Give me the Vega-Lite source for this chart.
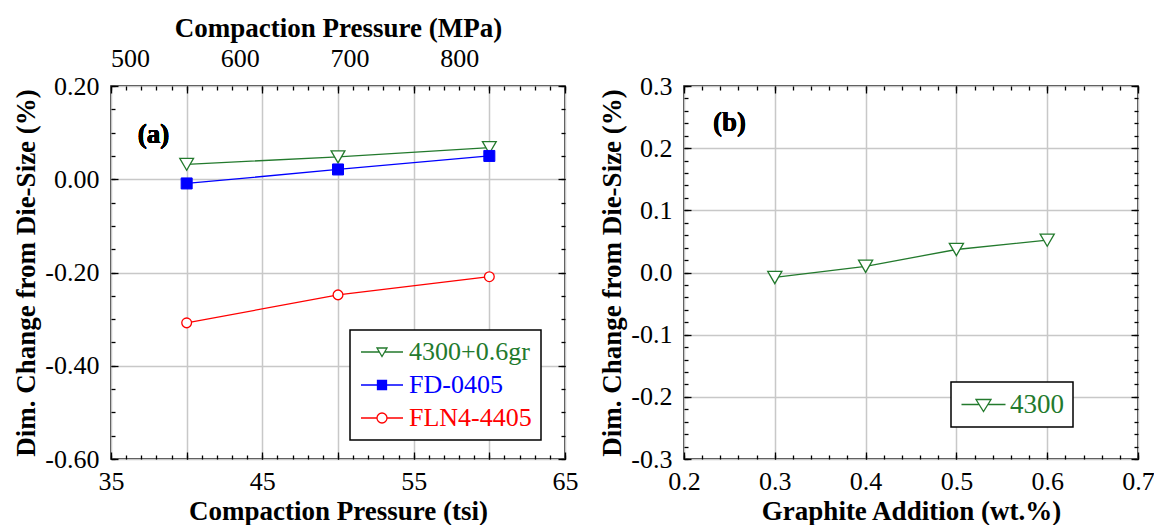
{
  "$schema": "https://vega.github.io/schema/vega-lite/v6.json",
  "background": "white",
  "padding": {"left": 12, "top": 13, "right": 5, "bottom": 0},
  "spacing": 19,
  "resolve": {"scale": {"stroke": "independent"}, "legend": {"stroke": "independent"}},
  "config": {
    "font": "Liberation Serif",
    "view": {"stroke": "black", "strokeWidth": 1.5},
    "legend": {"labelFont": "Liberation Serif"},
    "axis": {
      "labelFont": "Liberation Serif", "labelFontSize": 26, "labelColor": "black",
      "titleFont": "Liberation Serif", "titleFontSize": 27, "titleFontWeight": "bold", "titleColor": "black",
      "gridColor": "#c8c8c8", "gridWidth": 1.5, "gridOpacity": 1,
      "tickColor": "black", "tickWidth": 1.3, "domain": false,
      "labelFlush": false, "labelOverlap": false, "labelAngle": 0
    }
  },
  "hconcat": [
    {
      "width": 454, "height": 373,
      "data": {"values": [
        {"p": 40, "d": 0.032, "s": "4300+0.6gr"},
        {"p": 50, "d": 0.048, "s": "4300+0.6gr"},
        {"p": 60, "d": 0.068, "s": "4300+0.6gr"},
        {"p": 40, "d": -0.009, "s": "FD-0405"},
        {"p": 50, "d": 0.021, "s": "FD-0405"},
        {"p": 60, "d": 0.05, "s": "FD-0405"},
        {"p": 40, "d": -0.308, "s": "FLN4-4405"},
        {"p": 50, "d": -0.248, "s": "FLN4-4405"},
        {"p": 60, "d": -0.209, "s": "FLN4-4405"}
      ]},
      "resolve": {"axis": {"x": "independent", "y": "independent"}},
      "layer": [
        {
          "mark": {"type": "line", "strokeWidth": 1.3},
          "encoding": {
            "x": {"field": "p", "type": "quantitative", "scale": {"domain": [35, 65], "nice": false, "zero": false},
              "axis": {"orient": "bottom", "values": [35, 40, 45, 50, 55, 60, 65], "labelExpr": "datum.value % 10 == 5 ? datum.label : ''", "ticks": false, "grid": true, "title": "Compaction Pressure (tsi)", "labelPadding": 9, "titlePadding": 4}},
            "y": {"field": "d", "type": "quantitative", "scale": {"domain": [-0.6, 0.2], "nice": false, "zero": false},
              "axis": {"orient": "left", "values": [-0.6, -0.4, -0.2, 0, 0.2], "labelExpr": "replace(format(datum.value, '.2f'), '−', '-')", "ticks": false, "grid": true, "title": "Dim. Change from Die-Size (%)", "labelPadding": 12, "titlePadding": 4}},
            "stroke": {"field": "s", "type": "nominal",
              "scale": {"domain": ["4300+0.6gr", "FD-0405", "FLN4-4405"], "range": ["#237a2d", "#0000ff", "#ff0000"]},
              "legend": {
                "orient": "none", "legendX": 239, "legendY": 244, "title": null,
                "symbolSize": 100, "symbolOffset": 10, "labelOffset": 14,
                "labelFont": "Liberation Serif", "labelFontSize": 26, "rowPadding": 7, "padding": 9,
                "strokeColor": "black", "fillColor": "white", "symbolStrokeWidth": 1.3,
                "encode": {
                  "symbols": {"update": {
                    "shape": {"signal": "datum.value === '4300+0.6gr' ? 'M-4.2,0H-0.53M0.53,0H4.2M-1,-0.8H1L0,0.9Z' : datum.value === 'FD-0405' ? 'M-4.2,0H4.2M-0.9,-0.9H0.9V0.9H-0.9Z' : 'M-4.2,0H-1M1,0H4.2M-1,0A1,1 0 1,0 1,0A1,1 0 1,0 -1,0Z'"},
                    "fill": {"signal": "datum.value === 'FD-0405' ? '#0000ff' : 'white'"},
                    "stroke": {"signal": "datum.value === '4300+0.6gr' ? '#237a2d' : datum.value === 'FD-0405' ? '#0000ff' : '#ff0000'"},
                    "strokeWidth": {"value": 1.3},
                    "opacity": {"value": 1}
                  }},
                  "labels": {"update": {
                    "fill": {"signal": "datum.value === '4300+0.6gr' ? '#237a2d' : datum.value === 'FD-0405' ? '#0000ff' : '#ff0000'"}
                  }},
                  "legend": {"update": {"strokeWidth": {"value": 1.5}}}
                }
              }}
          }
        },
        {
          "transform": [{"filter": "datum.s === '4300+0.6gr'"}],
          "mark": {"type": "point", "shape": "triangle-down", "size": 190, "filled": true, "fill": "white", "stroke": "#237a2d", "strokeWidth": 1.3, "opacity": 1},
          "encoding": {
            "x": {"field": "p", "type": "quantitative", "axis": {"orient": "bottom", "values": [35, 40, 45, 50, 55, 60, 65], "labels": false, "grid": false, "title": null, "tickSize": 7, "offset": -7}},
            "y": {"field": "d", "type": "quantitative", "axis": {"orient": "left", "values": [-0.6, -0.4, -0.2, 0, 0.2], "labels": false, "grid": false, "title": null, "tickSize": 7, "offset": -7}}
          }
        },
        {
          "transform": [{"filter": "datum.s === 'FD-0405'"}],
          "mark": {"type": "point", "shape": "square", "size": 121, "filled": true, "fill": "#0000ff", "stroke": "#0000ff", "strokeWidth": 1, "opacity": 1},
          "encoding": {
            "x": {"field": "p", "type": "quantitative", "axis": {"orient": "bottom", "values": [35,36,37,38,39,40,41,42,43,44,45,46,47,48,49,50,51,52,53,54,55,56,57,58,59,60,61,62,63,64,65], "labels": false, "grid": false, "title": null, "tickSize": 4, "offset": -4}},
            "y": {"field": "d", "type": "quantitative", "axis": {"orient": "left", "values": [-0.6,-0.55,-0.5,-0.45,-0.4,-0.35,-0.3,-0.25,-0.2,-0.15,-0.1,-0.05,0,0.05,0.1,0.15,0.2], "labels": false, "grid": false, "title": null, "tickSize": 4, "offset": -4}}
          }
        },
        {
          "transform": [{"filter": "datum.s === 'FLN4-4405'"}],
          "mark": {"type": "point", "shape": "circle", "size": 95, "filled": true, "fill": "white", "stroke": "#ff0000", "strokeWidth": 1.3, "opacity": 1},
          "encoding": {
            "x": {"field": "p", "type": "quantitative", "axis": {"orient": "top", "values": [35, 40, 45, 50, 55, 60, 65], "labels": false, "grid": false, "title": null, "tickSize": 7, "offset": -7}},
            "y": {"field": "d", "type": "quantitative", "axis": {"orient": "right", "values": [-0.6, -0.4, -0.2, 0, 0.2], "labels": false, "grid": false, "title": null, "tickSize": 7, "offset": -7}}
          }
        },
        {
          "mark": {"type": "point", "opacity": 0},
          "encoding": {
            "x": {"field": "p", "type": "quantitative", "axis": {"orient": "top", "values": [35,36,37,38,39,40,41,42,43,44,45,46,47,48,49,50,51,52,53,54,55,56,57,58,59,60,61,62,63,64,65], "labels": false, "grid": false, "title": null, "tickSize": 4, "offset": -4}},
            "y": {"field": "d", "type": "quantitative", "axis": {"orient": "right", "values": [-0.6,-0.55,-0.5,-0.45,-0.4,-0.35,-0.3,-0.25,-0.2,-0.15,-0.1,-0.05,0,0.05,0.1,0.15,0.2], "labels": false, "grid": false, "title": null, "tickSize": 4, "offset": -4}}
          }
        },
        {
          "mark": {"type": "point", "opacity": 0},
          "encoding": {
            "x": {"field": "p", "type": "quantitative", "axis": {"orient": "top", "values": [36.26, 43.51, 50.76, 58.02], "labelExpr": "format(round(datum.value*13.7895/100)*100, 'd')", "ticks": false, "grid": false, "title": "Compaction Pressure (MPa)", "labelPadding": 15, "titlePadding": 3}},
            "y": {"field": "d", "type": "quantitative", "axis": null}
          }
        },
        {
          "mark": {"type": "text", "text": "(a)", "font": "Liberation Serif", "fontSize": 27, "fontWeight": "bold", "align": "center", "baseline": "middle", "fill": "black"},
          "encoding": {
            "x": {"datum": 37.8, "type": "quantitative", "axis": null},
            "y": {"datum": 0.095, "type": "quantitative", "axis": null}
          }
        }
      ]
    },
    {
      "width": 454, "height": 373,
      "data": {"values": [
        {"g": 0.3, "d": -0.008, "s": "4300"},
        {"g": 0.4, "d": 0.01, "s": "4300"},
        {"g": 0.5, "d": 0.037, "s": "4300"},
        {"g": 0.6, "d": 0.052, "s": "4300"}
      ]},
      "resolve": {"axis": {"x": "independent", "y": "independent"}},
      "layer": [
        {
          "mark": {"type": "line", "strokeWidth": 1.3},
          "encoding": {
            "x": {"field": "g", "type": "quantitative", "scale": {"domain": [0.2, 0.7], "nice": false, "zero": false},
              "axis": {"orient": "bottom", "values": [0.2, 0.3, 0.4, 0.5, 0.6, 0.7], "format": ".1f", "ticks": false, "grid": true, "title": "Graphite Addition (wt.%)", "labelPadding": 9, "titlePadding": 4}},
            "y": {"field": "d", "type": "quantitative", "scale": {"domain": [-0.3, 0.3], "nice": false, "zero": false},
              "axis": {"orient": "left", "values": [-0.3, -0.2, -0.1, 0, 0.1, 0.2, 0.3], "labelExpr": "replace(format(datum.value, '.1f'), '−', '-')", "ticks": false, "grid": true, "title": "Dim. Change from Die-Size (%)", "labelPadding": 12, "titlePadding": 4}},
            "stroke": {"field": "s", "type": "nominal",
              "scale": {"domain": ["4300"], "range": ["#237a2d"]},
              "legend": {
                "orient": "none", "legendX": 267, "legendY": 296, "title": null,
                "symbolSize": 100, "symbolOffset": 10, "labelOffset": 13,
                "labelFont": "Liberation Serif", "labelFontSize": 27, "padding": 9,
                "strokeColor": "black", "fillColor": "white", "symbolStrokeWidth": 1.3,
                "encode": {
                  "symbols": {"update": {
                    "shape": {"value": "M-4.4,0H-0.88M0.88,0H4.4M-1.5,-1H1.5L0,1.4Z"},
                    "fill": {"value": "white"},
                    "stroke": {"value": "#237a2d"},
                    "strokeWidth": {"value": 1.3},
                    "opacity": {"value": 1}
                  }},
                  "labels": {"update": {"fill": {"value": "#237a2d"}}},
                  "legend": {"update": {"strokeWidth": {"value": 1.5}}}
                }
              }}
          }
        },
        {
          "mark": {"type": "point", "shape": "triangle-down", "size": 200, "filled": true, "fill": "white", "stroke": "#237a2d", "strokeWidth": 1.3, "opacity": 1},
          "encoding": {
            "x": {"field": "g", "type": "quantitative", "axis": {"orient": "bottom", "values": [0.2, 0.3, 0.4, 0.5, 0.6, 0.7], "labels": false, "grid": false, "title": null, "tickSize": 7, "offset": -7}},
            "y": {"field": "d", "type": "quantitative", "axis": {"orient": "left", "values": [-0.3, -0.2, -0.1, 0, 0.1, 0.2, 0.3], "labels": false, "grid": false, "title": null, "tickSize": 7, "offset": -7}}
          }
        },
        {
          "mark": {"type": "point", "opacity": 0},
          "encoding": {
            "x": {"field": "g", "type": "quantitative", "axis": {"orient": "bottom", "values": [0.2,0.22,0.24,0.26,0.28,0.3,0.32,0.34,0.36,0.38,0.4,0.42,0.44,0.46,0.48,0.5,0.52,0.54,0.56,0.58,0.6,0.62,0.64,0.66,0.68,0.7], "labels": false, "grid": false, "title": null, "tickSize": 4, "offset": -4}},
            "y": {"field": "d", "type": "quantitative", "axis": {"orient": "left", "values": [-0.3,-0.28,-0.26,-0.24,-0.22,-0.2,-0.18,-0.16,-0.14,-0.12,-0.1,-0.08,-0.06,-0.04,-0.02,0,0.02,0.04,0.06,0.08,0.1,0.12,0.14,0.16,0.18,0.2,0.22,0.24,0.26,0.28,0.3], "labels": false, "grid": false, "title": null, "tickSize": 4, "offset": -4}}
          }
        },
        {
          "mark": {"type": "point", "opacity": 0},
          "encoding": {
            "x": {"field": "g", "type": "quantitative", "axis": {"orient": "top", "values": [0.2, 0.3, 0.4, 0.5, 0.6, 0.7], "labels": false, "grid": false, "title": null, "tickSize": 7, "offset": -7}},
            "y": {"field": "d", "type": "quantitative", "axis": {"orient": "right", "values": [-0.3, -0.2, -0.1, 0, 0.1, 0.2, 0.3], "labels": false, "grid": false, "title": null, "tickSize": 7, "offset": -7}}
          }
        },
        {
          "mark": {"type": "point", "opacity": 0},
          "encoding": {
            "x": {"field": "g", "type": "quantitative", "axis": {"orient": "top", "values": [0.2,0.22,0.24,0.26,0.28,0.3,0.32,0.34,0.36,0.38,0.4,0.42,0.44,0.46,0.48,0.5,0.52,0.54,0.56,0.58,0.6,0.62,0.64,0.66,0.68,0.7], "labels": false, "grid": false, "title": null, "tickSize": 4, "offset": -4}},
            "y": {"field": "d", "type": "quantitative", "axis": {"orient": "right", "values": [-0.3,-0.28,-0.26,-0.24,-0.22,-0.2,-0.18,-0.16,-0.14,-0.12,-0.1,-0.08,-0.06,-0.04,-0.02,0,0.02,0.04,0.06,0.08,0.1,0.12,0.14,0.16,0.18,0.2,0.22,0.24,0.26,0.28,0.3], "labels": false, "grid": false, "title": null, "tickSize": 4, "offset": -4}}
          }
        },
        {
          "mark": {"type": "text", "text": "(b)", "font": "Liberation Serif", "fontSize": 27, "fontWeight": "bold", "align": "center", "baseline": "middle", "fill": "black"},
          "encoding": {
            "x": {"datum": 0.25, "type": "quantitative", "axis": null},
            "y": {"datum": 0.24, "type": "quantitative", "axis": null}
          }
        }
      ]
    }
  ]
}
